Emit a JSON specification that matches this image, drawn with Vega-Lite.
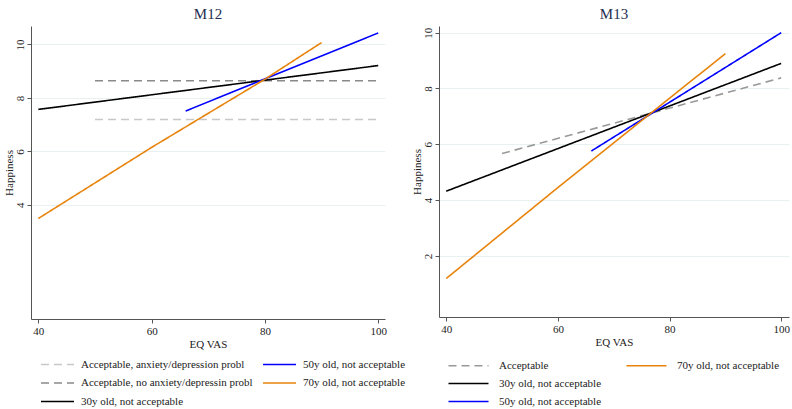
{
  "$schema": "https://vega.github.io/schema/vega-lite/v6.json",
  "background": "white",
  "padding": {"left": 3, "top": 7, "right": 2, "bottom": 2},
  "spacing": 54,
  "bounds": "flush",
  "resolve": {"scale": {"color": "independent", "strokeDash": "independent", "x": "independent", "y": "independent"}, "legend": {"color": "independent", "strokeDash": "independent"}},
  "config": {
    "font": "Liberation Serif",
    "view": {"stroke": null},
    "axis": {
      "labelFont": "Liberation Serif", "titleFont": "Liberation Serif",
      "labelFontSize": 11, "titleFontSize": 11, "titleFontWeight": "normal",
      "labelColor": "#222", "titleColor": "#222",
      "domainColor": "#555", "tickColor": "#555", "tickSize": 4,
      "gridColor": "#e8f1f2", "gridWidth": 1
    },
    "title": {"font": "Liberation Serif", "fontSize": 15, "fontWeight": "normal", "color": "#1e2d53", "offset": 4},
    "legend": {
      "labelFont": "Liberation Serif", "labelFontSize": 11, "labelColor": "#222",
      "symbolType": "M-3,0L3,0", "symbolStrokeWidth": 1.6, "labelLimit": 0, "title": null
    }
  },
  "hconcat": [
    {
      "width": 354, "height": 293,
      "title": "M12",
      "data": {"values": [
        {"series": "Acceptable, anxiety/depression probl", "vas": 50, "happy": 7.19},
        {"series": "Acceptable, anxiety/depression probl", "vas": 100, "happy": 7.19},
        {"series": "Acceptable, no anxiety/depressin probl", "vas": 50, "happy": 8.64},
        {"series": "Acceptable, no anxiety/depressin probl", "vas": 100, "happy": 8.64},
        {"series": "30y old, not acceptable", "vas": 40, "happy": 7.57},
        {"series": "30y old, not acceptable", "vas": 100, "happy": 9.21},
        {"series": "50y old, not acceptable", "vas": 66, "happy": 7.51},
        {"series": "50y old, not acceptable", "vas": 100, "happy": 10.43},
        {"series": "70y old, not acceptable", "vas": 40, "happy": 3.49},
        {"series": "70y old, not acceptable", "vas": 60, "happy": 6.15},
        {"series": "70y old, not acceptable", "vas": 80, "happy": 8.70},
        {"series": "70y old, not acceptable", "vas": 90, "happy": 10.07}
      ]},
      "mark": {"type": "line", "strokeWidth": 1.6},
      "encoding": {
        "x": {"field": "vas", "type": "quantitative", "scale": {"domain": [38.7, 101.2], "nice": false, "zero": false},
              "axis": {"values": [40, 60, 80, 100], "grid": false, "title": "EQ VAS", "labelPadding": 2, "titlePadding": 2}},
        "y": {"field": "happy", "type": "quantitative", "scale": {"domain": [-0.27, 10.69], "nice": false, "zero": false},
              "axis": {"values": [4, 6, 8, 10], "labelAngle": -90, "title": "Happiness", "labelPadding": 2, "titlePadding": 0}},
        "color": {"field": "series", "type": "nominal",
                  "scale": {"domain": ["Acceptable, anxiety/depression probl", "50y old, not acceptable", "Acceptable, no anxiety/depressin probl", "70y old, not acceptable", "30y old, not acceptable"],
                            "range": ["#c8c8c8", "#0000ff", "#8a8a8a", "#e8840c", "#000000"]},
                  "legend": {"orient": "bottom", "offset": 9, "columns": 2, "gridAlign": "none", "columnPadding": 0, "rowPadding": 6.5, "symbolSize": 121, "symbolOffset": 20, "labelOffset": 17}},
        "strokeDash": {"field": "series", "type": "nominal",
                  "scale": {"domain": ["Acceptable, anxiety/depression probl", "50y old, not acceptable", "Acceptable, no anxiety/depressin probl", "70y old, not acceptable", "30y old, not acceptable"],
                            "range": [[8, 5], [1, 0], [8, 5], [1, 0], [1, 0]]},
                  "legend": {"orient": "bottom", "offset": 9, "columns": 2, "gridAlign": "none", "columnPadding": 0, "rowPadding": 6.5, "symbolSize": 121, "symbolOffset": 20, "labelOffset": 17}}
      }
    },
    {
      "width": 350, "height": 291,
      "title": "M13",
      "data": {"values": [
        {"series": "Acceptable", "vas": 50, "happy": 5.67},
        {"series": "Acceptable", "vas": 100, "happy": 8.38},
        {"series": "30y old, not acceptable", "vas": 40, "happy": 4.32},
        {"series": "30y old, not acceptable", "vas": 100, "happy": 8.90},
        {"series": "50y old, not acceptable", "vas": 66, "happy": 5.76},
        {"series": "50y old, not acceptable", "vas": 100, "happy": 10.0},
        {"series": "70y old, not acceptable", "vas": 40, "happy": 1.19},
        {"series": "70y old, not acceptable", "vas": 60, "happy": 4.45},
        {"series": "70y old, not acceptable", "vas": 90, "happy": 9.25}
      ]},
      "mark": {"type": "line", "strokeWidth": 1.6},
      "encoding": {
        "x": {"field": "vas", "type": "quantitative", "scale": {"domain": [38.7, 101.4], "nice": false, "zero": false},
              "axis": {"values": [40, 60, 80, 100], "grid": false, "title": "EQ VAS", "labelPadding": 2, "titlePadding": 2}},
        "y": {"field": "happy", "type": "quantitative", "scale": {"domain": [-0.19, 10.24], "nice": false, "zero": false},
              "axis": {"values": [2, 4, 6, 8, 10], "labelAngle": -90, "title": "Happiness", "labelPadding": 2, "titlePadding": 0}},
        "color": {"field": "series", "type": "nominal",
                  "scale": {"domain": ["Acceptable", "70y old, not acceptable", "30y old, not acceptable", " ", "50y old, not acceptable"],
                            "range": ["#999999", "#e8840c", "#000000", "transparent", "#0000ff"]},
                  "legend": {"orient": "bottom", "offset": 11, "columns": 2, "columnPadding": 15, "rowPadding": 5, "symbolSize": 178, "symbolOffset": 22, "labelOffset": 23}},
        "strokeDash": {"field": "series", "type": "nominal",
                  "scale": {"domain": ["Acceptable", "70y old, not acceptable", "30y old, not acceptable", " ", "50y old, not acceptable"],
                            "range": [[8, 5], [1, 0], [1, 0], [1, 0], [1, 0]]},
                  "legend": {"orient": "bottom", "offset": 11, "columns": 2, "columnPadding": 15, "rowPadding": 5, "symbolSize": 178, "symbolOffset": 22, "labelOffset": 23}}
      }
    }
  ]
}
